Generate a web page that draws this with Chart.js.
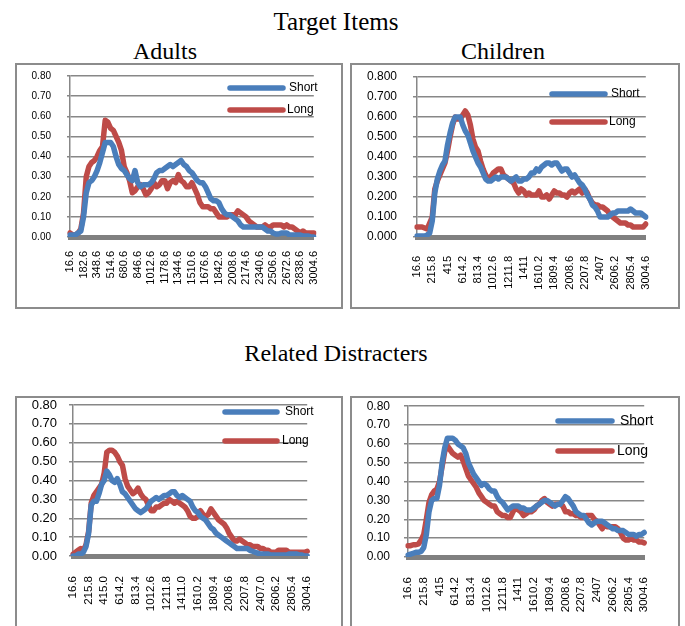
<!DOCTYPE html>
<html>
<head>
<meta charset="utf-8">
<script src="https://cdn.jsdelivr.net/npm/chart.js@4.4.1/dist/chart.umd.min.js"></script>
<style>
  body { margin: 0; background: #fff; width: 685px; height: 626px; overflow: hidden; position: relative; }
  .ttl { position: absolute; font-family: "Liberation Serif", "Times New Roman", serif; font-size: 24px; line-height: 1; color: #000; white-space: nowrap; transform: translateX(-50%); }
  .big { font-size: 25px; }
  .box { position: absolute; border: 2px solid #8c8c8c; box-sizing: border-box; }
  canvas { position: absolute; }
</style>
</head>
<body>
<div class="ttl big" style="left:336px; top:9px">Target Items</div>
<div class="ttl" style="left:165px; top:39px">Adults</div>
<div class="ttl" style="left:503px; top:39px">Children</div>
<div class="ttl" style="left:336px; top:341px">Related Distracters</div>

<div class="box" style="left:15px; top:63px; width:328px; height:246px"></div>
<div class="box" style="left:350px; top:63px; width:330px; height:246px"></div>
<div class="box" style="left:15px; top:396px; width:328px; height:240px"></div>
<div class="box" style="left:350px; top:396px; width:330px; height:240px"></div>

<canvas id="c1"></canvas>
<canvas id="c2"></canvas>
<canvas id="c3"></canvas>
<canvas id="c4"></canvas>

<script>
// sample times (ms), every second sample of the 16.6 ms grid
const timeMs = [16.6, 49.8, 83, 116.2, 149.4, 182.6, 215.8, 249, 282.2, 315.4,
  348.6, 381.8, 415, 448.2, 481.4, 514.6, 547.8, 581, 614.2, 647.4,
  680.6, 713.8, 747, 780.2, 813.4, 846.6, 879.8, 913, 946.2, 979.4,
  1012.6, 1045.8, 1079, 1112.2, 1145.4, 1178.6, 1211.8, 1245, 1278.2, 1311.4,
  1344.6, 1377.8, 1411, 1444.2, 1477.4, 1510.6, 1543.8, 1577, 1610.2, 1643.4,
  1676.6, 1709.8, 1743, 1776.2, 1809.4, 1842.6, 1875.8, 1909, 1942.2, 1975.4,
  2008.6, 2041.8, 2075, 2108.2, 2141.4, 2174.6, 2207.8, 2241, 2274.2, 2307.4,
  2340.6, 2373.8, 2407, 2440.2, 2473.4, 2506.6, 2539.8, 2573, 2606.2, 2639.4,
  2672.6, 2705.8, 2739, 2772.2, 2805.4, 2838.6, 2871.8, 2905, 2938.2, 2971.4,
  3004.6];

const seriesNames = ['Short', 'Long'];

// Target items - adults
const adultsTargetShort = [0.01, 0.01, 0.01, 0.02, 0.03, 0.10, 0.22, 0.27, 0.28, 0.30,
  0.33, 0.37, 0.42, 0.47, 0.47, 0.47, 0.45, 0.40, 0.36, 0.34,
  0.33, 0.31, 0.29, 0.28, 0.33, 0.27, 0.25, 0.26, 0.26, 0.26,
  0.27, 0.29, 0.32, 0.33, 0.33, 0.34, 0.35, 0.36, 0.35, 0.36,
  0.37, 0.38, 0.36, 0.35, 0.33, 0.32, 0.30, 0.28, 0.27, 0.27,
  0.25, 0.22, 0.19, 0.18, 0.18, 0.17, 0.14, 0.12, 0.11, 0.11,
  0.10, 0.09, 0.08, 0.06, 0.05, 0.05, 0.05, 0.05, 0.05, 0.05,
  0.05, 0.05, 0.04, 0.03, 0.03, 0.02, 0.015, 0.015, 0.02, 0.02,
  0.02, 0.01, 0.01, 0.01, 0.01, 0.01, 0.005, 0.005, 0.005, 0.00,
  0.00];
const adultsTargetLong = [0.02, 0.01, 0.01, 0.02, 0.04, 0.12, 0.30, 0.35, 0.37, 0.38,
  0.40, 0.43, 0.45, 0.58, 0.57, 0.54, 0.53, 0.50, 0.47, 0.43,
  0.35, 0.32, 0.28, 0.22, 0.23, 0.25, 0.26, 0.24, 0.21, 0.22,
  0.24, 0.27, 0.25, 0.26, 0.28, 0.28, 0.24, 0.27, 0.28, 0.27,
  0.31, 0.28, 0.27, 0.25, 0.25, 0.27, 0.24, 0.21, 0.17, 0.15,
  0.15, 0.15, 0.14, 0.14, 0.12, 0.10, 0.10, 0.10, 0.10, 0.11,
  0.11, 0.11, 0.13, 0.12, 0.11, 0.10, 0.08, 0.07, 0.06, 0.05,
  0.05, 0.05, 0.06, 0.05, 0.05, 0.06, 0.06, 0.06, 0.06, 0.05,
  0.06, 0.05, 0.05, 0.04, 0.03, 0.02, 0.03, 0.02, 0.02, 0.02,
  0.02];

// Target items - children
const childrenTargetShort = [0.005, 0.005, 0.005, 0.005, 0.01, 0.02, 0.08, 0.22, 0.29, 0.33,
  0.36, 0.38, 0.46, 0.52, 0.57, 0.60, 0.60, 0.60, 0.56, 0.53,
  0.51, 0.47, 0.43, 0.40, 0.37, 0.35, 0.32, 0.29, 0.28, 0.28,
  0.29, 0.30, 0.29, 0.30, 0.30, 0.30, 0.29, 0.28, 0.29, 0.30,
  0.28, 0.28, 0.29, 0.29, 0.30, 0.32, 0.32, 0.34, 0.33, 0.35,
  0.36, 0.37, 0.37, 0.36, 0.37, 0.37, 0.35, 0.33, 0.34, 0.34,
  0.32, 0.30, 0.31, 0.29, 0.27, 0.26, 0.24, 0.21, 0.19, 0.16,
  0.15, 0.13, 0.10, 0.10, 0.10, 0.10, 0.11, 0.12, 0.12, 0.13,
  0.13, 0.13, 0.13, 0.13, 0.14, 0.13, 0.12, 0.12, 0.12, 0.11,
  0.10];
const childrenTargetLong = [0.05, 0.05, 0.05, 0.045, 0.04, 0.07, 0.10, 0.24, 0.28, 0.31,
  0.34, 0.37, 0.43, 0.50, 0.56, 0.60, 0.59, 0.59, 0.61, 0.63,
  0.61, 0.56, 0.49, 0.45, 0.43, 0.38, 0.34, 0.31, 0.29, 0.30,
  0.32, 0.33, 0.34, 0.34, 0.31, 0.30, 0.29, 0.28, 0.27, 0.24,
  0.22, 0.24, 0.23, 0.21, 0.22, 0.21, 0.21, 0.21, 0.23, 0.20,
  0.20, 0.21, 0.19, 0.21, 0.23, 0.22, 0.22, 0.21, 0.21, 0.20,
  0.22, 0.23, 0.22, 0.23, 0.24, 0.22, 0.24, 0.22, 0.19, 0.17,
  0.16, 0.16, 0.15, 0.15, 0.14, 0.13, 0.11, 0.10, 0.09, 0.08,
  0.07, 0.07, 0.07, 0.06, 0.06, 0.05, 0.05, 0.05, 0.05, 0.05,
  0.065];

// Related distracters - adults
const adultsRelatedShort = [0.00, 0.00, 0.01, 0.01, 0.02, 0.05, 0.12, 0.27, 0.29, 0.29,
  0.33, 0.38, 0.40, 0.45, 0.43, 0.40, 0.39, 0.41, 0.38, 0.34,
  0.33, 0.31, 0.29, 0.27, 0.25, 0.24, 0.23, 0.24, 0.25, 0.27,
  0.29, 0.30, 0.31, 0.30, 0.31, 0.32, 0.32, 0.33, 0.34, 0.34,
  0.32, 0.31, 0.32, 0.31, 0.30, 0.29, 0.26, 0.24, 0.23, 0.21,
  0.20, 0.19, 0.17, 0.15, 0.14, 0.12, 0.11, 0.10, 0.09, 0.08,
  0.07, 0.06, 0.05, 0.04, 0.04, 0.04, 0.04, 0.04, 0.03, 0.025,
  0.02, 0.015, 0.01, 0.01, 0.01, 0.01, 0.005, 0.005, 0.005, 0.005,
  0.005, 0.005, 0.005, 0.01, 0.01, 0.01, 0.01, 0.005, 0.005, 0.00,
  0.00];
const adultsRelatedLong = [0.01, 0.02, 0.03, 0.04, 0.03, 0.06, 0.13, 0.28, 0.32, 0.34,
  0.36, 0.38, 0.44, 0.55, 0.56, 0.56, 0.55, 0.53, 0.50, 0.48,
  0.41, 0.37, 0.35, 0.33, 0.34, 0.36, 0.33, 0.31, 0.30, 0.27,
  0.24, 0.24, 0.26, 0.26, 0.27, 0.28, 0.28, 0.30, 0.29, 0.28,
  0.29, 0.28, 0.27, 0.26, 0.24, 0.21, 0.20, 0.20, 0.21, 0.24,
  0.22, 0.21, 0.22, 0.25, 0.23, 0.21, 0.19, 0.18, 0.17, 0.15,
  0.12, 0.10, 0.08, 0.08, 0.09, 0.08, 0.07, 0.06, 0.06, 0.05,
  0.05, 0.05, 0.04, 0.04, 0.03, 0.03, 0.02, 0.02, 0.02, 0.03,
  0.03, 0.03, 0.03, 0.02, 0.02, 0.02, 0.02, 0.02, 0.02, 0.02,
  0.025];

// Related distracters - children
const childrenRelatedShort = [0.01, 0.015, 0.02, 0.025, 0.025, 0.03, 0.05, 0.12, 0.24, 0.30,
  0.31, 0.31, 0.38, 0.50, 0.58, 0.63, 0.63, 0.63, 0.62, 0.60,
  0.59, 0.58, 0.55, 0.50, 0.47, 0.44, 0.42, 0.40, 0.38, 0.39,
  0.38, 0.36, 0.35, 0.35, 0.32, 0.30, 0.29, 0.27, 0.25, 0.26,
  0.27, 0.27, 0.27, 0.26, 0.26, 0.25, 0.25, 0.25, 0.26, 0.27,
  0.28, 0.29, 0.30, 0.30, 0.29, 0.28, 0.27, 0.28, 0.28, 0.30,
  0.32, 0.31, 0.29, 0.27, 0.24, 0.23, 0.22, 0.22, 0.20, 0.18,
  0.17, 0.18, 0.19, 0.19, 0.19, 0.18, 0.17, 0.16, 0.15, 0.15,
  0.14, 0.14, 0.14, 0.13, 0.12, 0.12, 0.12, 0.11, 0.12, 0.12,
  0.13];
const childrenRelatedLong = [0.06, 0.06, 0.065, 0.065, 0.07, 0.09, 0.12, 0.20, 0.29, 0.33,
  0.35, 0.36, 0.40, 0.48, 0.56, 0.59, 0.57, 0.55, 0.54, 0.53,
  0.54, 0.51, 0.47, 0.43, 0.41, 0.39, 0.37, 0.34, 0.32, 0.30,
  0.29, 0.28, 0.27, 0.27, 0.24, 0.23, 0.22, 0.22, 0.21, 0.21,
  0.24, 0.26, 0.25, 0.24, 0.22, 0.23, 0.24, 0.24, 0.25, 0.27,
  0.28, 0.30, 0.31, 0.29, 0.28, 0.27, 0.28, 0.28, 0.28, 0.27,
  0.24, 0.24, 0.23, 0.23, 0.22, 0.22, 0.21, 0.21, 0.22, 0.22,
  0.22, 0.20, 0.19, 0.17, 0.15, 0.17, 0.16, 0.16, 0.16, 0.16,
  0.15, 0.13, 0.10, 0.09, 0.09, 0.10, 0.09, 0.09, 0.08, 0.08,
  0.075];

const colShort = '#4a7ebb';
const colLong = '#be4b48';
const gridCol = '#878787';

// layout of each panel (page pixels)
const panels = [
  { id: 'c1', data: [adultsTargetShort, adultsTargetLong],
    cv: { x: 17, y: 50, w: 324, h: 250 }, area: { l: 70, t: 76, r: 327, b: 237 },
    yDec: 2, yFont: 10, tickLen: 3, yPad: 16, xFont: 11, xPad: 14, every: 5, fixed: true,
    legend: { x1: 230, x2: 283, ys: [88, 110], tx: [289, 287], font: 12 } },
  { id: 'c2', data: [childrenTargetShort, childrenTargetLong],
    cv: { x: 352, y: 50, w: 326, h: 250 }, area: { l: 417, t: 77, r: 666, b: 237 },
    yDec: 3, yFont: 12, tickLen: 4, yPad: 16, xFont: 11, xPad: 19, every: 6, fixed: false,
    legend: { x1: 552, x2: 605, ys: [94, 122], tx: [611, 609], font: 12 } },
  { id: 'c3', data: [adultsRelatedShort, adultsRelatedLong],
    cv: { x: 17, y: 385, w: 324, h: 241 }, area: { l: 73, t: 405, r: 327, b: 556 },
    yDec: 2, yFont: 13, tickLen: 4, yPad: 12, xFont: 11.5, xPad: 20, every: 6, fixed: true,
    legend: { x1: 225, x2: 277, ys: [412, 441], tx: [285, 282], font: 12 } },
  { id: 'c4', data: [childrenRelatedShort, childrenRelatedLong],
    cv: { x: 352, y: 385, w: 326, h: 241 }, area: { l: 408, t: 401, r: 668, b: 557 },
    yDec: 2, yFont: 12, tickLen: 4, yPad: 14, xFont: 11.5, xPad: 20, every: 6, fixed: false,
    legend: { x1: 558, x2: 612, ys: [421, 451], tx: [620, 617], font: 14 } }
];

const sansFont = '"Liberation Sans", Arial, sans-serif';

// Excel-style legend sitting inside the plot
const insideLegend = {
  id: 'insideLegend',
  afterDraw(chart, args, opts) {
    const ctx = chart.ctx;
    const lg = opts.cfg;
    const ox = opts.ox, oy = opts.oy;
    ctx.save();
    chart.data.datasets.forEach((ds, i) => {
      ctx.strokeStyle = ds.borderColor;
      ctx.lineWidth = 5.5;
      ctx.lineCap = 'round';
      ctx.beginPath();
      ctx.moveTo(lg.x1 - ox, lg.ys[i] - oy);
      ctx.lineTo(lg.x2 - ox, lg.ys[i] - oy);
      ctx.stroke();
      ctx.fillStyle = '#000';
      ctx.font = lg.font + 'px ' + sansFont;
      ctx.textBaseline = 'middle';
      ctx.textAlign = 'left';
      ctx.fillText(ds.label, lg.tx[i] - ox, lg.ys[i] - oy);
    });
    ctx.restore();
  }
};

panels.forEach(p => {
  const canvas = document.getElementById(p.id);
  canvas.width = p.cv.w;
  canvas.height = p.cv.h;
  canvas.style.left = p.cv.x + 'px';
  canvas.style.top = p.cv.y + 'px';

  new Chart(canvas.getContext('2d'), {
    type: 'line',
    data: {
      labels: timeMs,
      datasets: [
        { label: seriesNames[0], data: p.data[0], borderColor: colShort },
        { label: seriesNames[1], data: p.data[1], borderColor: colLong }
      ].map(d => Object.assign(d, { borderWidth: 5.5, pointRadius: 0, tension: 0, fill: false,
        borderJoinStyle: 'round', borderCapStyle: 'round' }))
    },
    plugins: [insideLegend],
    options: {
      responsive: false,
      animation: false,
      layout: { padding: { left: 0, top: p.area.t - p.cv.y, right: p.cv.x + p.cv.w - p.area.r, bottom: 0 } },
      plugins: {
        legend: { display: false },
        title: { display: false },
        tooltip: { enabled: false },
        insideLegend: { cfg: p.legend, ox: p.cv.x, oy: p.cv.y }
      },
      scales: {
        x: {
          type: 'category',
          offset: false,
          grid: { display: false, drawTicks: false },
          border: { display: true, color: '#808080', width: 5 },
          afterFit: s => { s.height = p.cv.y + p.cv.h - p.area.b; },
          ticks: {
            autoSkip: false,
            minRotation: 90,
            maxRotation: 90,
            padding: p.xPad,
            color: '#000',
            font: { family: sansFont, size: p.xFont },
            callback: (val, idx) => idx % p.every === 0
              ? (p.fixed ? timeMs[idx].toFixed(1) : String(timeMs[idx])) : ''
          }
        },
        y: {
          min: 0,
          max: 0.8,
          grid: { color: gridCol, lineWidth: 1.5, tickLength: p.tickLen, drawTicks: true },
          border: { display: true, color: gridCol, width: 1.5 },
          afterFit: s => { s.width = p.area.l - p.cv.x; },
          ticks: {
            stepSize: 0.1,
            padding: p.yPad,
            color: '#000',
            font: { family: sansFont, size: p.yFont },
            callback: v => v.toFixed(p.yDec)
          }
        }
      }
    }
  });
});
</script>
</body>
</html>
